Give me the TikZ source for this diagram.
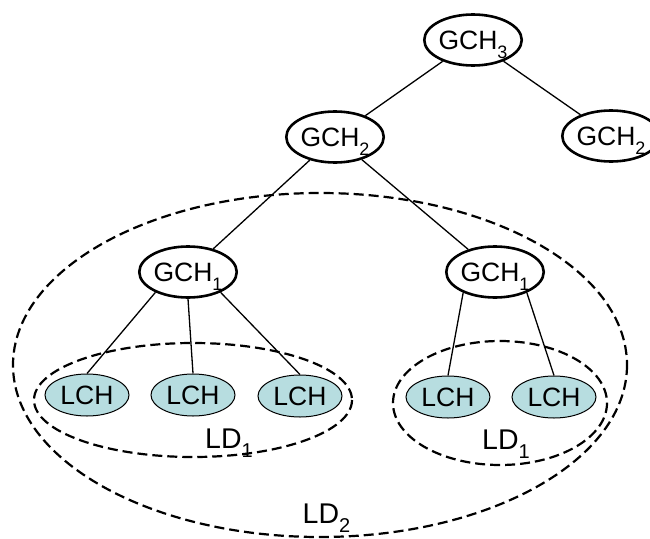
\documentclass[tikz,border=0pt]{standalone}
\usepackage{fontspec}
\setmainfont{Liberation Sans}
\usetikzlibrary{shapes.geometric}
\definecolor{lchfill}{RGB}{183,221,224}
% level index set low and smashed, so it does not move the node text
\newcommand{\lvl}[2][18]{\raisebox{-9pt}[0pt][0pt]{\fontsize{#1}{#1}\selectfont #2}}
\begin{document}
\begin{tikzpicture}[x=1pt,y=-1pt,
  gch/.style={ellipse, draw, line width=2.6pt, fill=white,
    minimum width=95pt, minimum height=51pt, inner sep=0pt,
    font=\fontsize{26.5}{28}\selectfont},
  lch/.style={ellipse, draw, line width=1pt, fill=lchfill,
    minimum width=84pt, minimum height=42pt, inner sep=0pt,
    font=\fontsize{26.5}{28}\selectfont},
  link/.style={line width=1.3pt},
  ldzone/.style={dash pattern=on 10pt off 5pt, line width=2.2pt},
  ldlabel/.style={font=\fontsize{28.5}{32}\selectfont, inner sep=0pt}]
\useasboundingbox (0,0) rectangle (650,538);

% local domains (dashed groupings)
\draw[ldzone] (320,365) ellipse [x radius=307, y radius=172];
\draw[ldzone] (193,400) ellipse [x radius=159, y radius=57];
\draw[ldzone] (500,403) ellipse [x radius=107, y radius=62];

% cluster heads
\node[gch] (g3)  at (473,40)  {GCH\lvl{3}};
\node[gch] (g2a) at (335,137) {GCH\lvl{2}};
\node[gch] (g2b) at (611,136) {GCH\lvl{2}};
\node[gch] (g1a) at (188,272) {GCH\lvl{1}};
\node[gch] (g1b) at (495,272) {GCH\lvl{1}};

\node[lch] (l1) at (87,395)  {LCH};
\node[lch] (l2) at (193,395) {LCH};
\node[lch] (l3) at (300,396) {LCH};
\node[lch] (l4) at (448,397) {LCH};
\node[lch] (l5) at (554,397) {LCH};

% hierarchy links
\draw[link] (g3) -- (g2a);
\draw[link] (g3) -- (g2b);
\draw[link] (g2a) -- (g1a);
\draw[link] (g2a) -- (g1b);
\draw[link] (g1a.212) -- (l1.north);
\draw[link] (g1a.south) -- (l2.north);
\draw[link] (g1a.328) -- (l3.north);
\draw[link] (g1b.213) -- (l4.north);
\draw[link] (g1b.327) -- (l5.north);

% domain labels
\node[ldlabel] (ld1a) at (229,439)   {LD\lvl[20]{1}};
\node[ldlabel] (ld1b) at (506,439.5) {LD\lvl[20]{1}};
\node[ldlabel] (ld2)  at (326.5,514) {LD\lvl[20]{2}};
\end{tikzpicture}
\end{document}
